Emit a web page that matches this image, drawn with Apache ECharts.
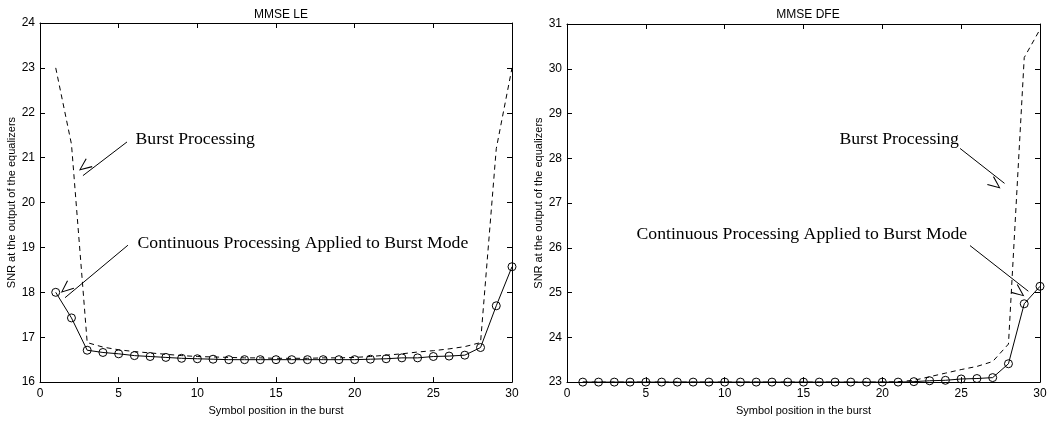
<!DOCTYPE html>
<html>
<head>
<meta charset="utf-8">
<script src="https://cdn.jsdelivr.net/npm/echarts@6/dist/echarts.min.js"></script>
<style>
html,body{margin:0;padding:0;background:#fff;}
#chart{width:1053px;height:421px;}
</style>
</head>
<body>
<div id="chart"></div>
<script>
// ---- data ----
const positions = [1,2,3,4,5,6,7,8,9,10,11,12,13,14,15,16,17,18,19,20,21,22,23,24,25,26,27,28,29,30];

const leContinuous = [18.0,17.43,16.71,16.66,16.63,16.59,16.57,16.55,16.53,16.52,16.51,16.5,16.5,16.5,16.5,16.5,16.5,16.5,16.5,16.5,16.51,16.52,16.54,16.54,16.57,16.58,16.6,16.77,17.7,18.57];
const leBurst = [23.0,21.3,16.88,16.78,16.72,16.68,16.65,16.62,16.59,16.57,16.56,16.55,16.54,16.54,16.53,16.53,16.53,16.54,16.54,16.55,16.57,16.6,16.63,16.67,16.7,16.74,16.79,16.88,21.2,23.0];

const dfeContinuous = [23.0,23.0,23.0,23.0,23.0,23.0,23.0,23.0,23.0,23.0,23.0,23.0,23.0,23.0,23.0,23.0,23.0,23.0,23.0,23.0,23.0,23.01,23.03,23.04,23.07,23.08,23.1,23.41,24.75,25.14];
const dfeBurst = [23.0,23.0,23.0,23.0,23.0,23.0,23.0,23.0,23.0,23.0,23.0,23.0,23.0,23.0,23.0,23.0,23.0,23.0,23.0,23.0,23.01,23.04,23.12,23.2,23.28,23.35,23.46,23.85,30.25,30.88];

const titles = ['MMSE LE', 'MMSE DFE'];
const xName = 'Symbol position in the burst';
const yName = 'SNR at the output of the equalizers';
const labelBurst = 'Burst Processing';
const labelCont = 'Continuous Processing Applied to Burst Mode';

// annotation anchors (data coordinates)
const leBurstText = [6.04, 21.40];
const leBurstArrow = [[5.53, 21.35], [2.73, 20.6]];
const leContText = [6.17, 19.08];
const leContArrow = [[5.59, 19.05], [1.59, 17.88]];
const dfeBurstText = [17.25, 28.42];
const dfeBurstArrow = [[24.93, 28.22], [27.75, 27.44]];
const dfeContText = [4.38, 26.30];
const dfeContArrow = [[25.56, 26.05], [29.26, 25.03]];

// ---- chart ----
const pair = (ys) => positions.map((x, i) => [x, ys[i]]);
const arrowPath = 'path://M5,0 L10,14 L9,14.4 L5,2.6 L1,14.4 L0,14 Z';
const SANS = 'Liberation Sans, Arial, Helvetica, sans-serif';
const SERIF = 'Liberation Serif, Times New Roman, serif';

function xAxes(gi) {
  return [
    {
      type: 'value', gridIndex: gi, min: 0, max: 30, interval: 5, position: 'bottom',
      name: xName, nameLocation: 'middle', nameGap: 19,
      nameTextStyle: {color: '#000', fontFamily: SANS, fontSize: 11},
      axisLine: {show: true, onZero: false, lineStyle: {color: '#000', width: 1}},
      axisTick: {show: true, inside: true, length: 5, lineStyle: {color: '#000'}},
      axisLabel: {show: true, color: '#000', fontFamily: SANS, fontSize: 12, margin: 6},
      splitLine: {show: false}
    },
    {
      type: 'value', gridIndex: gi, min: 0, max: 30, interval: 5, position: 'top',
      axisLine: {show: true, onZero: false, lineStyle: {color: '#000', width: 1}},
      axisTick: {show: true, inside: true, length: 5, lineStyle: {color: '#000'}},
      axisLabel: {show: false},
      splitLine: {show: false}
    }
  ];
}
function yAxes(gi, mn, mx) {
  return [
    {
      type: 'value', gridIndex: gi, min: mn, max: mx, interval: 1, position: 'left',
      name: yName, nameLocation: 'middle', nameGap: 20,
      nameTextStyle: {color: '#000', fontFamily: SANS, fontSize: 11},
      axisLine: {show: true, onZero: false, lineStyle: {color: '#000', width: 1}},
      axisTick: {show: true, inside: true, length: 5, lineStyle: {color: '#000'}},
      axisLabel: {show: true, color: '#000', fontFamily: SANS, fontSize: 12, margin: 5},
      splitLine: {show: false}
    },
    {
      type: 'value', gridIndex: gi, min: mn, max: mx, interval: 1, position: 'right',
      axisLine: {show: true, onZero: false, lineStyle: {color: '#000', width: 1}},
      axisTick: {show: true, inside: true, length: 5, lineStyle: {color: '#000'}},
      axisLabel: {show: false},
      splitLine: {show: false}
    }
  ];
}

function annotation(textPos, arrow, text) {
  return {
    text: {
      coord: textPos, value: text,
      symbol: 'rect', symbolSize: 1, itemStyle: {color: 'rgba(0,0,0,0)'},
      label: {show: true, position: 'right', distance: 0, formatter: text,
        color: '#000', fontFamily: SERIF, fontSize: 17.7}
    },
    line: [{coord: arrow[0]}, {coord: arrow[1]}]
  };
}

const a1 = annotation(leBurstText, leBurstArrow, labelBurst);
const a2 = annotation(leContText, leContArrow, labelCont);
const a3 = annotation(dfeBurstText, dfeBurstArrow, labelBurst);
const a4 = annotation(dfeContText, dfeContArrow, labelCont);

function marks(list) {
  return {
    markPoint: {silent: true, animation: false, data: list.map(a => a.text)},
    markLine: {
      silent: true, animation: false,
      symbol: ['none', arrowPath], symbolSize: [11, 13], symbolOffset: [0, 6.5],
      lineStyle: {color: '#000', width: 1, type: 'solid'},
      label: {show: false},
      data: list.map(a => a.line)
    }
  };
}

const markerStyle = {color: 'rgba(255,255,255,0)', borderColor: '#000', borderWidth: 1};

const chart = echarts.init(document.getElementById('chart'), null, {renderer: 'canvas'});
chart.setOption({
  animation: false,
  backgroundColor: '#fff',
  title: [
    {text: titles[0], left: 276, top: 4, textAlign: 'center',
      textStyle: {color: '#000', fontFamily: SANS, fontSize: 12, fontWeight: 'normal'}},
    {text: titles[1], left: 803, top: 4, textAlign: 'center',
      textStyle: {color: '#000', fontFamily: SANS, fontSize: 12, fontWeight: 'normal'}}
  ],
  grid: [
    {left: 40, top: 23, width: 472, height: 362},
    {left: 567, top: 24, width: 473, height: 362}
  ],
  xAxis: [...xAxes(0), ...xAxes(1)],
  yAxis: [...yAxes(0, 16, 24), ...yAxes(1, 23, 31)],
  series: [
    {
      type: 'line', xAxisIndex: 0, yAxisIndex: 0, data: pair(leBurst),
      showSymbol: false, symbol: 'none',
      lineStyle: {color: '#000', width: 1, type: [5, 4]}, z: 2
    },
    Object.assign({
      type: 'line', xAxisIndex: 0, yAxisIndex: 0, data: pair(leContinuous),
      symbol: 'circle', symbolSize: 8, itemStyle: markerStyle,
      lineStyle: {color: '#000', width: 1, type: 'solid'}, z: 3
    }, marks([a1, a2])),
    {
      type: 'line', xAxisIndex: 2, yAxisIndex: 2, data: pair(dfeBurst),
      showSymbol: false, symbol: 'none',
      lineStyle: {color: '#000', width: 1, type: [5, 4]}, z: 2
    },
    Object.assign({
      type: 'line', xAxisIndex: 2, yAxisIndex: 2, data: pair(dfeContinuous),
      symbol: 'circle', symbolSize: 8, itemStyle: markerStyle,
      lineStyle: {color: '#000', width: 1, type: 'solid'}, z: 3
    }, marks([a3, a4]))
  ]
});
</script>
</body>
</html>
